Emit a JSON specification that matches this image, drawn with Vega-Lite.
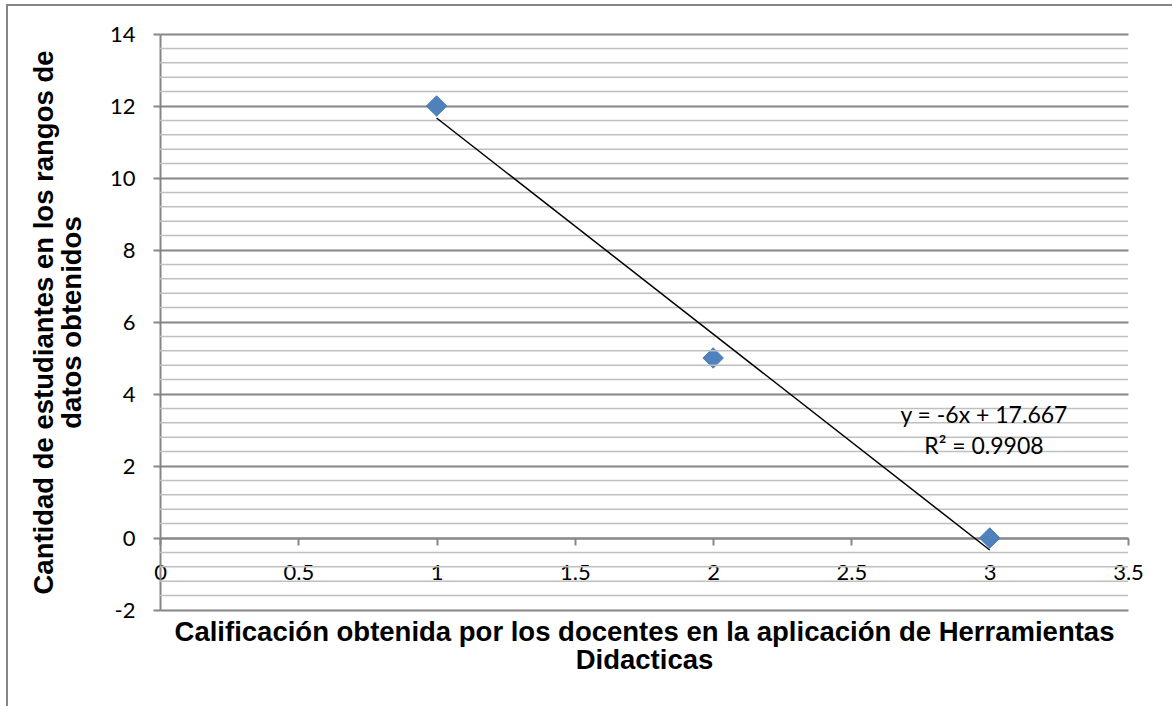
{
  "$schema": "https://vega.github.io/schema/vega-lite/v6.json",
  "width": 968,
  "height": 576,
  "autosize": {"type": "none"},
  "padding": {"left": 160, "top": 34, "right": 44, "bottom": 96},
  "background": "white",
  "config": {"view": {"stroke": null}},
  "datasets": {
    "points": [{"x": 1, "y": 12}, {"x": 2, "y": 5}, {"x": 3, "y": 0}],
    "trend": [{"x": 1, "y": 11.667}, {"x": 3, "y": -0.333}],
    "minor": [
      {"y": -1.6}, {"y": -1.2}, {"y": -0.8}, {"y": -0.4},
      {"y": 0.4}, {"y": 0.8}, {"y": 1.2}, {"y": 1.6},
      {"y": 2.4}, {"y": 2.8}, {"y": 3.2}, {"y": 3.6},
      {"y": 4.4}, {"y": 4.8}, {"y": 5.2}, {"y": 5.6},
      {"y": 6.4}, {"y": 6.8}, {"y": 7.2}, {"y": 7.6},
      {"y": 8.4}, {"y": 8.8}, {"y": 9.2}, {"y": 9.6},
      {"y": 10.4}, {"y": 10.8}, {"y": 11.2}, {"y": 11.6},
      {"y": 12.4}, {"y": 12.8}, {"y": 13.2}, {"y": 13.6}
    ],
    "eq": [
      {"x": 2.979, "y": 3.39, "label": "y = -6x + 17.667"},
      {"x": 2.979, "y": 2.53, "label": "R² = 0.9908"}
    ]
  },
  "layer": [
    {
      "data": {"name": "points"},
      "mark": {"type": "point", "shape": "diamond", "size": 420, "filled": true, "opacity": 1, "color": "#4F81BD", "stroke": "#4A7EBB", "strokeWidth": 1, "zindex": 3},
      "encoding": {
        "x": {
          "field": "x", "type": "quantitative",
          "scale": {"domain": [0, 3.5], "nice": false, "zero": false},
          "axis": {
            "values": [0, 0.5, 1, 1.5, 2, 2.5, 3, 3.5],
            "labelExpr": "'' + datum.value",
            "grid": false,
            "offset": -72,
            "domainColor": "#868686", "domainWidth": 2,
            "tickColor": "#868686", "tickWidth": 2, "tickSize": 7,
            "labelFont": "Lato", "labelFontSize": 22, "labelColor": "black", "labelPadding": 17,
            "labelFlush": false, "labelOverlap": false,
            "title": ["Calificación obtenida por los docentes en la aplicación de Herramientas", "Didacticas"],
            "titleFont": "Liberation Sans", "titleFontWeight": "bold", "titleFontSize": 27.5, "titleColor": "black",
            "titleLineHeight": 28, "titleY": 80, "titleBaseline": "top", "titleAlign": "center"
          }
        },
        "y": {
          "field": "y", "type": "quantitative",
          "scale": {"domain": [-2, 14], "nice": false, "zero": false},
          "axis": {
            "values": [-2, 0, 2, 4, 6, 8, 10, 12, 14],
            "labelExpr": "'' + datum.value",
            "grid": true, "gridColor": "#868686", "gridWidth": 2,
            "domainColor": "#868686", "domainWidth": 2,
            "tickColor": "#868686", "tickWidth": 2, "tickSize": 7,
            "labelFont": "Lato", "labelFontSize": 22, "labelColor": "black", "labelPadding": 18,
            "labelFlush": false, "labelOverlap": false,
            "title": ["Cantidad de estudiantes en los rangos de", "datos obtenidos"],
            "titleFont": "Liberation Sans", "titleFontWeight": "bold", "titleFontSize": 27.5, "titleColor": "black",
            "titleLineHeight": 28, "titleAngle": -90, "titleX": -130, "titleY": 288, "titleBaseline": "top", "titleAlign": "center"
          }
        }
      }
    },
    {
      "data": {"values": [{}]},
      "mark": {"type": "rect", "clip": false, "fill": null, "fillOpacity": 0, "stroke": "#868686", "strokeWidth": 2},
      "encoding": {
        "x": {"datum": -0.5532, "type": "quantitative"},
        "x2": {"datum": 4.4},
        "y": {"datum": 14.806, "type": "quantitative"},
        "y2": {"datum": -5}
      }
    },
    {
      "data": {"name": "minor"},
      "mark": {"type": "rule", "color": "#bfbfbf", "strokeWidth": 1.5},
      "encoding": {
        "y": {"field": "y", "type": "quantitative"}
      }
    },
    {
      "data": {"name": "trend"},
      "mark": {"type": "line", "color": "black", "strokeWidth": 1.5, "zindex": 2},
      "encoding": {
        "x": {"field": "x", "type": "quantitative"},
        "y": {"field": "y", "type": "quantitative"}
      }
    },
    {
      "data": {"name": "eq"},
      "mark": {"type": "text", "font": "Lato", "fontSize": 23, "color": "black", "align": "center", "baseline": "middle"},
      "encoding": {
        "x": {"field": "x", "type": "quantitative"},
        "y": {"field": "y", "type": "quantitative"},
        "text": {"field": "label"}
      }
    }
  ]
}
